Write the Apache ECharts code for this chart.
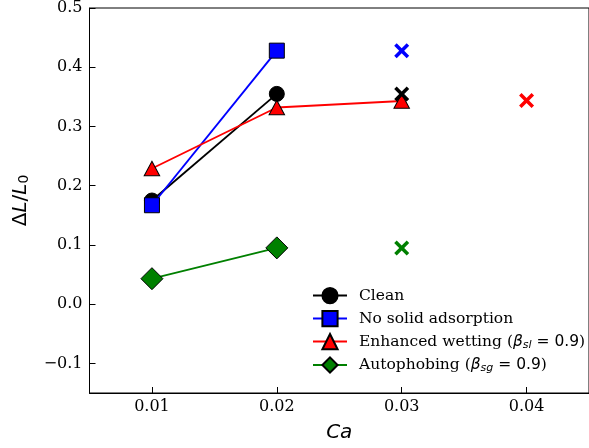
<!DOCTYPE html>
<html>
<head>
<meta charset="utf-8">
<style>
  html, body { margin: 0; padding: 0; background: #fff; }
  #chart { width: 589px; height: 448px; }
</style>
<script src="https://cdn.jsdelivr.net/npm/echarts@6/dist/echarts.min.js"></script>
</head>
<body>
<div id="chart"></div>
<script>
// Capillary number for each simulation
const caClean = [0.01, 0.02];
const caNoSolid = [0.01, 0.02];
const caEnhanced = [0.01, 0.02, 0.03];
const caAutophobing = [0.01, 0.02];

// Normalised elongation ΔL/L0
const dlClean = [0.175, 0.355];
const dlNoSolid = [0.167, 0.428];
const dlEnhanced = [0.229, 0.332, 0.343];
const dlAutophobing = [0.043, 0.095];

// Cases that broke up: capillary number and elongation at breakup
const breakCa = [0.03, 0.03, 0.04, 0.03];
const breakDl = [0.355, 0.428, 0.344, 0.095];

// Axis ticks
const xTicks = [0.01, 0.02, 0.03, 0.04];
const yTicks = [-0.1, 0.0, 0.1, 0.2, 0.3, 0.4, 0.5];

const seriesNames = [
  'Clean',
  'No solid adsorption',
  'Enhanced wetting',
  'Autophobing'
];
const colors = ['#000000', '#0000ff', '#ff0000', '#008000'];

const pairs = (xs, ys) => xs.map((x, i) => [x, ys[i]]);

// Bold "x" glyph used for breakup points
const crossPath = 'path://M2,0 L6,4 L10,0 L12,2 L8,6 L12,10 L10,12 L6,8 L2,12 L0,10 L4,6 L0,2 Z';

const serif = 'DejaVu Serif';
const sans = 'DejaVu Sans';

function lineSeries(idx, data, symbol, size) {
  return {
    name: seriesNames[idx],
    type: 'line',
    data: data,
    z: 2 + idx,
    symbol: symbol,
    symbolSize: size,
    showAllSymbol: true,
    lineStyle: { color: colors[idx], width: 1.9 },
    itemStyle: { color: colors[idx], borderColor: '#000', borderWidth: 1, opacity: 1 },
    emphasis: { disabled: true },
    animation: false
  };
}

// each breakup point takes the colour of its case: clean, no solid, enhanced, autophobing
const breakColors = [colors[0], colors[1], colors[2], colors[3]];
const breakData = breakCa.map((x, i) => ({
  value: [x, breakDl[i]],
  itemStyle: { color: breakColors[i], opacity: 1 }
}));

const chart = echarts.init(document.getElementById('chart'), null, { renderer: 'canvas' });

chart.setOption({
  backgroundColor: '#ffffff',
  animation: false,
  grid: {
    left: 89.5,
    top: 7.5,
    width: 506,
    height: 386.5,
    show: true,
    borderColor: '#000',
    borderWidth: 1,
    backgroundColor: 'transparent'
  },
  xAxis: {
    type: 'value',
    min: 0.005,
    max: 0.045,
    name: 'Ca',
    nameLocation: 'middle',
    nameGap: 30,
    nameTextStyle: { fontFamily: sans, fontStyle: 'italic', fontSize: 20, color: '#000' },
    axisLine: { show: true, onZero: false, lineStyle: { color: '#000', width: 1 } },
    axisTick: { show: true, inside: true, length: 6, lineStyle: { color: '#000', width: 1 }, customValues: xTicks },
    axisLabel: {
      show: true, margin: 6, fontFamily: serif, fontSize: 16, color: '#000',
      customValues: xTicks,
      formatter: v => v.toFixed(2)
    },
    splitLine: { show: false }
  },
  yAxis: {
    type: 'value',
    min: -0.15,
    max: 0.5,
    name: 'Δ{i|L}/{i|L}{s|0}',
    nameLocation: 'middle',
    nameRotate: 90,
    nameGap: 58,
    nameTextStyle: {
      fontFamily: sans, fontSize: 20, color: '#000',
      rich: {
        i: { fontFamily: sans, fontStyle: 'italic', fontSize: 20, color: '#000' },
        s: { fontFamily: sans, fontSize: 14, color: '#000', padding: [8, 0, 0, 0] }
      }
    },
    axisLine: { show: true, onZero: false, lineStyle: { color: '#000', width: 1 } },
    axisTick: { show: true, inside: true, length: 6, lineStyle: { color: '#000', width: 1 }, customValues: yTicks },
    axisLabel: {
      show: true, margin: 7, fontFamily: serif, fontSize: 16, color: '#000',
      customValues: yTicks,
      formatter: v => (v < 0 ? '\u2212' : '') + Math.abs(v).toFixed(1)
    },
    splitLine: { show: false }
  },
  legend: {
    orient: 'vertical',
    left: 312,
    top: 287,
    itemWidth: 34,
    itemHeight: 19,
    itemGap: 5.8,
    padding: 0,
    selectedMode: false,
    data: seriesNames,
    textStyle: {
      fontFamily: serif, fontSize: 15.5, color: '#000', padding: [0, 0, 0, 7],
      rich: {
        b: { fontFamily: sans, fontStyle: 'italic', fontSize: 15.5, color: '#000' },
        s: { fontFamily: sans, fontStyle: 'italic', fontSize: 11, color: '#000', padding: [7, 0, 0, 0] },
        m: { fontFamily: sans, fontSize: 15.5, color: '#000' }
      }
    },
    formatter: function (name) {
      if (name === 'Enhanced wetting') return 'Enhanced wetting ({b|β}{s|sl}{m| = 0.9})';
      if (name === 'Autophobing') return 'Autophobing ({b|β}{s|sg}{m| = 0.9})';
      return name;
    }
  },
  series: [
    lineSeries(0, pairs(caClean, dlClean), 'circle', 15),
    lineSeries(1, pairs(caNoSolid, dlNoSolid), 'rect', 15),
    lineSeries(2, pairs(caEnhanced, dlEnhanced), 'triangle', [15.5, 14.5]),
    lineSeries(3, pairs(caAutophobing, dlAutophobing), 'diamond', 22),
    {
      name: 'breakup',
      type: 'scatter',
      data: breakData,
      z: 10,
      symbol: crossPath,
      symbolSize: 15,
      itemStyle: { opacity: 1 },
      emphasis: { disabled: true },
      animation: false
    }
  ]
});
</script>
</body>
</html>
